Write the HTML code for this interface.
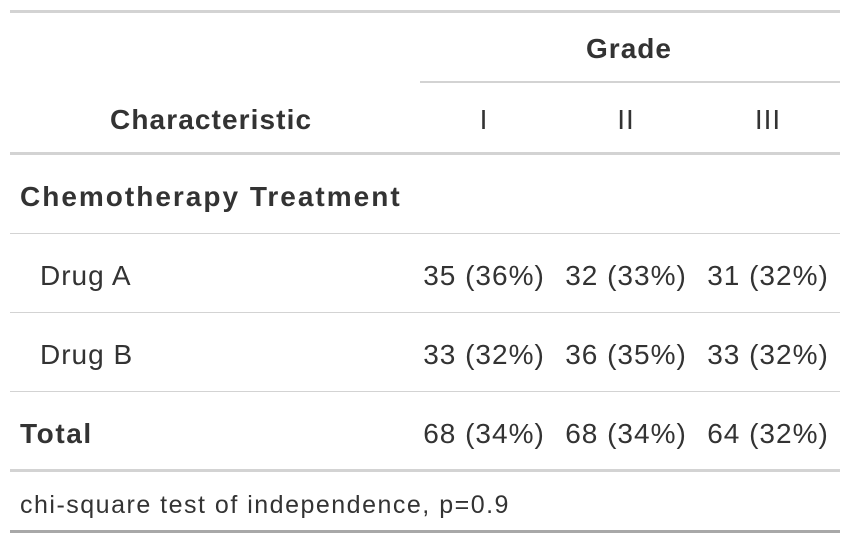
<!DOCTYPE html>
<html><head><meta charset="utf-8"><style>
body{margin:0;width:850px;height:544px;background:#fff;font-family:"Liberation Sans",sans-serif;color:#333;position:relative;overflow:hidden}
.t{position:absolute;font-size:28px;line-height:30px;white-space:nowrap;letter-spacing:1px}
.b{font-weight:bold;letter-spacing:1.6px}
.c{text-align:center;width:142px}
.l{position:absolute;left:10px;width:830px;background:#d3d3d3}
</style></head><body>
<div class="l" style="top:10px;height:3px"></div>
<div class="t b c" style="left:558px;top:34px;letter-spacing:1px">Grade</div>
<div class="l" style="left:420px;width:420px;top:81px;height:2px"></div>
<div class="t b" style="left:110px;top:105px;letter-spacing:1.1px">Characteristic</div>
<div class="t c" style="left:413px;top:105px">I</div>
<div class="t c" style="left:555px;top:105px">II</div>
<div class="t c" style="left:697px;top:105px">III</div>
<div class="l" style="top:152px;height:3px"></div>
<div class="t b" style="left:20px;top:182px;letter-spacing:2px">Chemotherapy Treatment</div>
<div class="l" style="top:233px;height:1px"></div>
<div class="t" style="left:40px;top:261px">Drug A</div>
<div class="t c" style="left:413px;top:261px">35 (36%)</div>
<div class="t c" style="left:555px;top:261px">32 (33%)</div>
<div class="t c" style="left:697px;top:261px">31 (32%)</div>
<div class="l" style="top:312px;height:1px"></div>
<div class="t" style="left:40px;top:340px">Drug B</div>
<div class="t c" style="left:413px;top:340px">33 (32%)</div>
<div class="t c" style="left:555px;top:340px">36 (35%)</div>
<div class="t c" style="left:697px;top:340px">33 (32%)</div>
<div class="l" style="top:391px;height:1px"></div>
<div class="t b" style="left:20px;top:419px">Total</div>
<div class="t c" style="left:413px;top:419px">68 (34%)</div>
<div class="t c" style="left:555px;top:419px">68 (34%)</div>
<div class="t c" style="left:697px;top:419px">64 (32%)</div>
<div class="l" style="top:469px;height:3px"></div>
<div class="t" style="left:20px;top:490px;font-size:25px;letter-spacing:1.5px">chi-square test of independence, p=0.9</div>
<div class="l" style="top:530px;height:3px;background:#a8a8a8"></div>
</body></html>
